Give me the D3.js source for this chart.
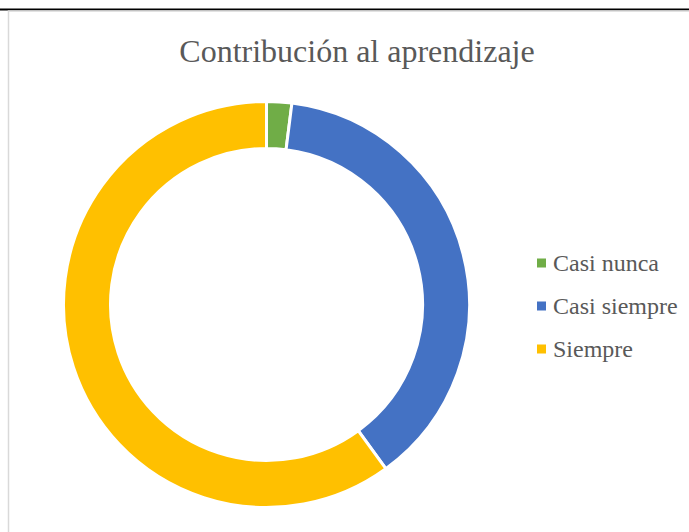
<!DOCTYPE html>
<html>
<head>
<meta charset="utf-8">
<script src="https://cdn.jsdelivr.net/npm/d3@7"></script>
<style>
  body { margin: 0; background: #fff; }
  svg { display: block; }
</style>
</head>
<body>
<div id="chart"></div>
<script>
// chart data
var categories = ["Casi nunca", "Casi siempre", "Siempre"];
var values = [2, 38, 60];
var colors = ["#70ad47", "#4472c4", "#ffc000"];
var title = "Contribución al aprendizaje";

var svgWidth = 689;
var svgHeight = 532;

var svg = d3.select("#chart")
  .append("svg")
  .attr("width", svgWidth)
  .attr("height", svgHeight);

// page line and chart frame
svg.append("line")
  .attr("x1", 0).attr("x2", svgWidth)
  .attr("y1", 9.5).attr("y2", 9.5)
  .attr("stroke", "#000")
  .attr("stroke-width", 2);
svg.append("rect")
  .attr("x", 8.5).attr("y", 11)
  .attr("width", svgWidth + 10).attr("height", svgHeight + 10)
  .attr("fill", "none")
  .attr("stroke", "#d9d9d9")
  .attr("stroke-width", 1.5);

// title
svg.append("text")
  .attr("x", 357)
  .attr("y", 62)
  .attr("text-anchor", "middle")
  .attr("font-family", "'Liberation Serif', 'Times New Roman', serif")
  .attr("font-size", "32px")
  .attr("fill", "#595959")
  .text(title);

// donut
var data = categories.map((c, i) => ({ name: c, value: values[i], color: colors[i] }));
var pie = d3.pie().sort(null).value(d => d.value);
var arc = d3.arc().innerRadius(156).outerRadius(203);

var donut = svg.append("g")
  .attr("transform", "translate(266.5, 304.5)");

donut.selectAll("path")
  .data(pie(data))
  .enter()
  .append("path")
  .attr("d", arc)
  .attr("fill", d => d.data.color)
  .attr("stroke", "#fff")
  .attr("stroke-width", 3);

// legend
var legendY = d3.scalePoint()
  .domain(categories)
  .range([263, 349]);

var legend = svg.append("g");
var items = legend.selectAll("g")
  .data(data)
  .enter()
  .append("g")
  .attr("transform", d => `translate(537, ${legendY(d.name)})`);

items.append("rect")
  .attr("x", 0).attr("y", -4.5)
  .attr("width", 9).attr("height", 9)
  .attr("fill", d => d.color);

items.append("text")
  .attr("x", 16)
  .attr("y", 8)
  .attr("font-family", "'Liberation Serif', 'Times New Roman', serif")
  .attr("font-size", "24px")
  .attr("fill", "#595959")
  .text(d => d.name);
</script>
</body>
</html>
